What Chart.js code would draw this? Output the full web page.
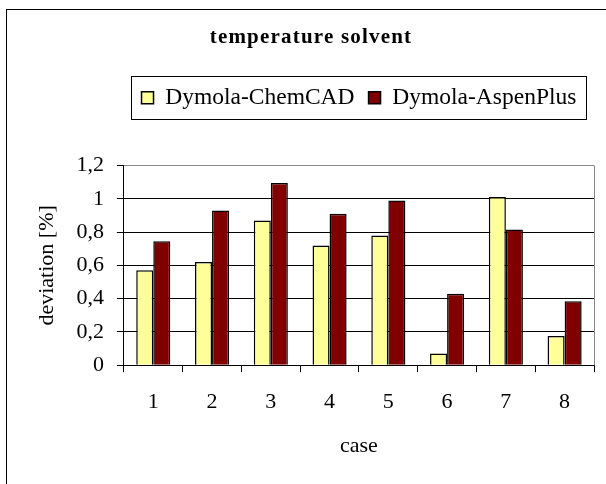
<!DOCTYPE html>
<html>
<head>
<meta charset="utf-8">
<script src="https://cdn.jsdelivr.net/npm/chart.js@4"></script>
<style>
    html, body { margin: 0; padding: 0; background: #fff; overflow: hidden; }
    #wrap { position: relative; width: 606px; height: 484px; }
    #frame { position: absolute; left: 6px; top: 9px; width: 700px; height: 600px; border: 1px solid #000; }
    #chart { position: absolute; left: 0; top: 0; }
</style>
</head>
<body>
<div id="wrap">
    <div id="frame"></div>
    <canvas id="chart" width="606" height="484"></canvas>
</div>
<script>
// data
const cases = ['1', '2', '3', '4', '5', '6', '7', '8'];
const chemcad = [0.57, 0.62, 0.87, 0.72, 0.78, 0.07, 1.01, 0.175];
const aspenplus = [0.745, 0.93, 1.095, 0.91, 0.99, 0.43, 0.815, 0.385];
const seriesNames = ['Dymola-ChemCAD', 'Dymola-AspenPlus'];
const seriesColors = ['#FFFF99', '#800000'];
const yTicks = [0, 0.2, 0.4, 0.6, 0.8, 1, 1.2];
const chartTitle = 'temperature solvent';

const serif = "'Liberation Serif', 'Times New Roman', serif";

// extra room under the legend
const legendSpacer = {
    id: 'legendSpacer',
    beforeInit(chart) {
        const fit = chart.legend.fit;
        chart.legend.fit = function() {
            fit.bind(chart.legend)();
            this.height += 46;
        };
    }
};

// title (letter-spaced), box round the legend, grey right edge of the plot
const frames = {
    id: 'frames',
    afterDraw(chart) {
        const ctx = chart.ctx;

        ctx.save();
        ctx.font = 'bold 21px ' + serif;
        ctx.fillStyle = '#000';
        ctx.textAlign = 'center';
        ctx.textBaseline = 'middle';
        ctx.letterSpacing = '1.2px';
        ctx.fillText(chartTitle, 311, 38);
        ctx.restore();

        const boxes = chart.legend.legendHitBoxes;
        if (boxes && boxes.length) {
            let l = Infinity, r = -Infinity, t = Infinity, b = -Infinity;
            boxes.forEach(h => {
                l = Math.min(l, h.left);
                r = Math.max(r, h.left + h.width);
                t = Math.min(t, h.top);
                b = Math.max(b, h.top + h.height);
            });
            ctx.save();
            ctx.strokeStyle = '#000';
            ctx.lineWidth = 1;
            ctx.strokeRect(Math.round(l - 11) + 0.5, Math.round(t - 10) + 0.5, Math.round(r - l + 20), Math.round(b - t + 19));
            ctx.restore();
        }

        const a = chart.chartArea;
        ctx.save();
        ctx.strokeStyle = '#888';
        ctx.lineWidth = 1;
        ctx.beginPath();
        ctx.moveTo(Math.round(a.right) + 0.5, a.top);
        ctx.lineTo(Math.round(a.right) + 0.5, a.bottom);
        ctx.stroke();
        ctx.restore();
    }
};

new Chart(document.getElementById('chart'), {
    type: 'bar',
    data: {
        labels: cases,
        datasets: [{
            label: seriesNames[0],
            data: chemcad,
            backgroundColor: seriesColors[0],
            borderColor: '#000',
            borderWidth: 1.5
        }, {
            label: seriesNames[1],
            data: aspenplus,
            backgroundColor: seriesColors[1],
            borderColor: '#000',
            borderWidth: 1.5
        }]
    },
    options: {
        responsive: false,
        animation: false,
        devicePixelRatio: 1,
        layout: { padding: { left: 26, right: 12, top: 72, bottom: 0 } },
        datasets: {
            bar: { categoryPercentage: 0.58, barPercentage: 1.0 }
        },
        plugins: {
            title: { display: false },
            legend: {
                position: 'top',
                fullSize: false,
                labels: {
                    color: '#000',
                    font: { family: serif, size: 23.5 },
                    boxWidth: 12,
                    boxHeight: 12,
                    padding: 14
                }
            },
            tooltip: { enabled: false }
        },
        scales: {
            x: {
                grid: {
                    drawOnChartArea: false,
                    drawTicks: true,
                    tickLength: 7,
                    tickColor: '#000',
                    offset: true
                },
                border: { color: '#000', width: 1 },
                ticks: { color: '#000', font: { family: serif, size: 22 }, padding: 17 },
                title: {
                    display: true,
                    text: 'case',
                    color: '#000',
                    font: { family: serif, size: 22 },
                    padding: { top: 0, bottom: 25 }
                }
            },
            y: {
                min: 0,
                max: 1.2,
                afterBuildTicks(axis) {
                    axis.ticks = yTicks.map(v => ({ value: v }));
                },
                grid: {
                    color: ctx => ctx.tick && ctx.tick.value === 1.2 ? '#888' : '#000',
                    tickColor: '#000',
                    tickLength: 7
                },
                border: { color: '#000', width: 1 },
                ticks: {
                    color: '#000',
                    font: { family: serif, size: 22 },
                    padding: 13,
                    callback: v => String(Number(v.toFixed(1))).replace('.', ',')
                },
                title: {
                    display: true,
                    text: 'deviation [%]',
                    color: '#000',
                    font: { family: serif, size: 22 },
                    padding: { top: 8, bottom: 3 }
                }
            }
        }
    },
    plugins: [legendSpacer, frames]
});
</script>
</body>
</html>
